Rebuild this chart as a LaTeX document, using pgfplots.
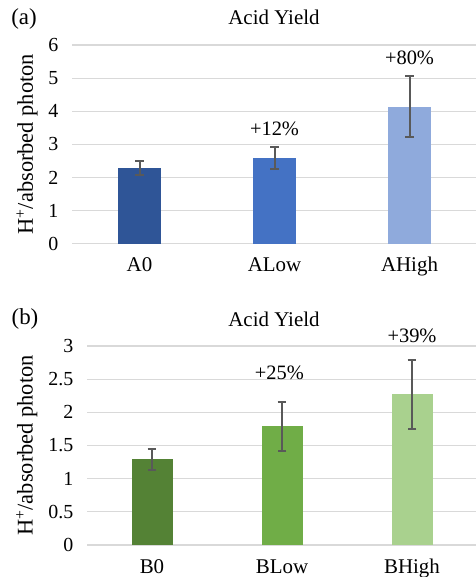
\documentclass[border=0pt]{standalone}
\usepackage{pgfplots}
\pgfplotsset{compat=1.18}
\usepackage{fontspec}
\setmainfont{Liberation Serif}
\definecolor{aZero}{HTML}{2F5597}
\definecolor{aLow}{HTML}{4472C4}
\definecolor{aHigh}{HTML}{8FAADC}
\definecolor{bZero}{HTML}{548235}
\definecolor{bLow}{HTML}{70AD47}
\definecolor{bHigh}{HTML}{A9D18E}
\definecolor{gridc}{HTML}{D9D9D9}
\definecolor{errc}{HTML}{595959}
\newcommand{\fs}[1]{\fontsize{#1}{#1}\selectfont}
\tikzset{pct/.style={font=\fs{20.5}, anchor=base, inner sep=0pt}}
\pgfplotsset{
  acid/.style={
    scale only axis,
    ybar,
    xmin=-0.5, xmax=2.5,
    xtick={0,1,2},
    ymajorgrids,
    grid style={draw=gridc, line width=1.2bp},
    axis line style={draw=none},
    major tick length=0pt,
    clip=false,
    /pgf/number format/assume math mode=true,
    yticklabel style={font=\fs{20}, anchor=east, inner sep=0pt, xshift=-13.5bp},
    xticklabel style={font=\fs{21}, anchor=base, inner sep=0pt, yshift=-28bp},
    ylabel={H\textsuperscript{+}/absorbed photon},
    ylabel style={font=\fs{22.5}, anchor=center},
    error bars/y dir=both,
    error bars/y explicit,
    error bars/error bar style={color=errc, line width=2bp},
    error bars/error mark options={rotate=90, mark size=4.3bp, line width=2bp, color=errc},
  },
}
\begin{document}
\begin{tikzpicture}
\useasboundingbox (0bp,0bp) rectangle (476bp,577bp);
% Panel (a)
\begin{axis}[acid,
  at={(72bp,333.3bp)}, anchor=south west,
  width=405bp, height=198.7bp,
  ymin=0, ymax=6, ytick={0,1,2,3,4,5,6},
  xticklabels={A0,ALow,AHigh},
  bar width=43bp,
  ylabel style={at={(axis description cs:-0.111,0.5)}},
]
\addplot[fill=aZero, draw=none, bar shift=0pt] coordinates {(0,2.28) +- (0,0.22)};
\addplot[fill=aLow, draw=none, bar shift=0pt] coordinates {(1,2.59) +- (0,0.33)};
\addplot[fill=aHigh, draw=none, bar shift=0pt] coordinates {(2,4.13) +- (0,0.92)};
\node[pct] at (axis cs:1,3.28) {+12\%};
\node[pct] at (axis cs:2,5.40) {+80\%};
\end{axis}
% Panel (b)
\begin{axis}[acid,
  at={(87bp,32bp)}, anchor=south west,
  width=390bp, height=199bp,
  ymin=0, ymax=3, ytick={0,0.5,1,1.5,2,2.5,3},
  xticklabels={B0,BLow,BHigh},
  bar width=41bp,
  ylabel style={at={(axis description cs:-0.154,0.5)}},
]
\addplot[fill=bZero, draw=none, bar shift=0pt] coordinates {(0,1.29) +- (0,0.16)};
\addplot[fill=bLow, draw=none, bar shift=0pt] coordinates {(1,1.79) +- (0,0.37)};
\addplot[fill=bHigh, draw=none, bar shift=0pt] coordinates {(2,2.27) +- (0,0.515)};
\node[pct] at (axis cs:0.98,2.49) {+25\%};
\node[pct] at (axis cs:2,3.056) {+39\%};
\end{axis}
% titles and panel letters
\node[font=\fs{21}, anchor=base, inner sep=0pt] at (274bp,552bp) {Acid Yield};
\node[font=\fs{21}, anchor=base, inner sep=0pt] at (274bp,250.3bp) {Acid Yield};
\node[font=\fs{23}, anchor=base, inner sep=0pt] at (24bp,552bp) {(a)};
\node[font=\fs{23}, anchor=base, inner sep=0pt] at (25bp,252bp) {(b)};
\end{tikzpicture}
\end{document}
